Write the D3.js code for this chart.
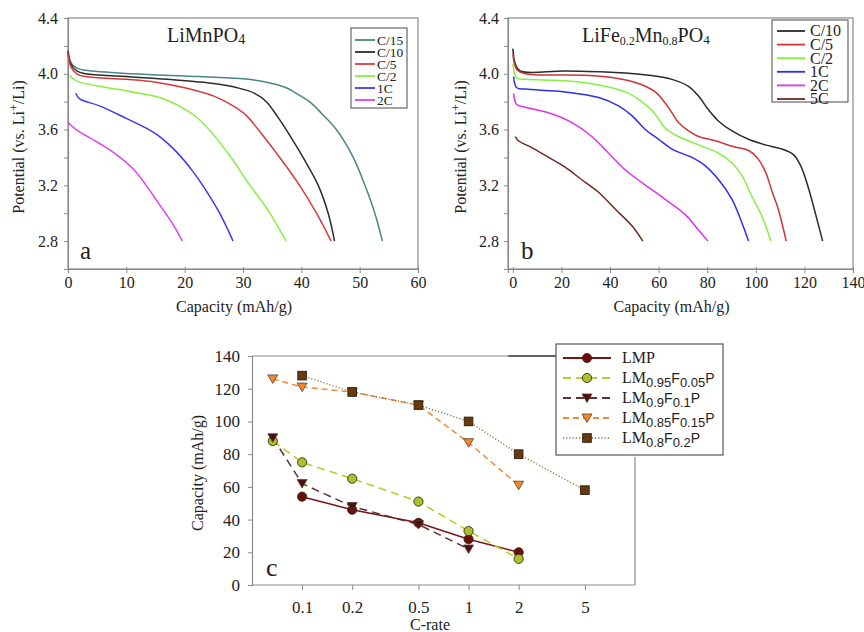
<!DOCTYPE html>
<html>
<head>
<meta charset="utf-8">
<script src="https://cdn.jsdelivr.net/npm/d3@7"></script>
<style>
  html, body { margin: 0; padding: 0; background: #fff; }
  svg { display: block; }
  text { font-family: "Liberation Serif", "Times New Roman", serif; fill: #222; }
</style>
</head>
<body>
<svg id="fig" width="864" height="632"></svg>
<script>
const SERIF = "'Liberation Serif', 'Times New Roman', serif";
const SANS = "'Liberation Sans', Arial, sans-serif";

// ---- Panel a: LiMnPO4 discharge curves, [capacity mAh/g, potential V] ----
const aRates = ["C/15", "C/10", "C/5", "C/2", "1C", "2C"];
const aColors = ["#4a8686", "#2b2b2b", "#d63a3a", "#86f042", "#3a3af2", "#e040f2"];
const aC15 = [[0,4.17],[0.5,4.08],[1.5,4.04],[3,4.025],[11,4.0],[22.6,3.98],[31,3.96],[35,3.93],[37.4,3.9],[39.5,3.85],[41.4,3.8],[43.6,3.71],[46,3.6],[48.9,3.4],[50.9,3.2],[52.6,3.0],[53.9,2.8]];
const aC10 = [[0,4.16],[0.5,4.07],[1.5,4.02],[3,4.0],[10,3.98],[17,3.96],[25,3.93],[29,3.9],[32,3.86],[34,3.8],[35.8,3.7],[37.4,3.6],[40.3,3.4],[42.9,3.2],[44.6,3.0],[45.7,2.8]];
const aC5  = [[0,4.15],[0.5,4.05],[1.5,4.0],[3,3.98],[10,3.96],[15,3.94],[20,3.9],[25,3.84],[28.3,3.77],[30.6,3.7],[32.6,3.6],[36.3,3.4],[39.7,3.2],[42.6,3.0],[45.1,2.8]];
const aC2  = [[0.3,3.99],[1,3.96],[2,3.94],[5.4,3.91],[11,3.87],[15.7,3.83],[19,3.77],[22,3.69],[25,3.56],[28.3,3.38],[31,3.21],[34,3.04],[37.4,2.8]];
const a1C  = [[1.3,3.86],[2,3.82],[5.4,3.77],[10,3.68],[13.4,3.61],[15.7,3.55],[18.6,3.44],[21.4,3.3],[23.7,3.16],[26,3.0],[28.3,2.8]];
const a2C  = [[0,3.65],[1.4,3.6],[5.4,3.5],[8.3,3.42],[11.1,3.32],[13.4,3.2],[15.7,3.06],[18,2.92],[19.6,2.8]];

// ---- Panel b: LiFe0.2Mn0.8PO4 discharge curves ----
const bRates = ["C/10", "C/5", "C/2", "1C", "2C", "5C"];
const bColors = ["#2b2b2b", "#cc3535", "#86f042", "#2e2ef2", "#e032f2", "#6b2b22"];
const bC10 = [[0,4.18],[1,4.07],[3,4.02],[21.5,4.02],[42.1,4.01],[55.9,3.99],[65.5,3.96],[72.3,3.91],[76.4,3.84],[80.6,3.74],[84.7,3.66],[90.2,3.59],[97,3.53],[103.9,3.49],[110.8,3.46],[115.5,3.42],[118.5,3.34],[121.5,3.19],[124.5,3.0],[127.5,2.8]];
const bC5  = [[0,4.14],[1.6,4.03],[5.1,4.0],[28.4,3.99],[42.1,3.97],[51.7,3.93],[58.6,3.87],[62.7,3.79],[65.5,3.72],[68.2,3.65],[72.3,3.59],[76.4,3.55],[83.3,3.52],[90.2,3.48],[97,3.45],[100.5,3.4],[103.9,3.3],[106.6,3.16],[109.4,3.02],[112.5,2.8]];
const bC2  = [[0,4.07],[1.6,3.97],[5.1,3.96],[21.5,3.95],[35.3,3.92],[46.3,3.87],[53.1,3.8],[58.6,3.71],[62.7,3.61],[68.2,3.55],[76.4,3.49],[84.7,3.43],[90.2,3.36],[94.3,3.27],[98.4,3.12],[102.5,2.98],[106.2,2.8]];
const b1C  = [[0.3,3.98],[1.6,3.9],[5.1,3.89],[21.5,3.87],[35.3,3.83],[43.5,3.77],[49,3.7],[54.5,3.6],[60,3.53],[65.5,3.46],[73.7,3.4],[79.2,3.34],[84.7,3.24],[90.2,3.1],[94.3,2.93],[97,2.8]];
const b2C  = [[0.3,3.86],[1.6,3.78],[5.1,3.76],[14.7,3.72],[24.3,3.65],[32.5,3.55],[39.4,3.43],[46.3,3.31],[53.1,3.22],[62.7,3.1],[71,2.99],[76.4,2.88],[80.3,2.8]];
const b5C  = [[1,3.55],[2.3,3.52],[7.8,3.47],[14.7,3.4],[21.5,3.33],[28.4,3.24],[35.3,3.15],[42.1,3.03],[49,2.91],[53.5,2.8]];

const potTicks = [2.6, 2.8, 3.0, 3.2, 3.4, 3.6, 3.8, 4.0, 4.2, 4.4];
const potLabels = [2.8, 3.2, 3.6, 4.0, 4.4];
const aCapTicks = [0, 10, 20, 30, 40, 50, 60];
const bCapTicks = [0, 20, 40, 60, 80, 100, 120, 140];

// ---- Panel c: rate capability, capacity (mAh/g) vs C-rate ----
const cRates = [1/15, 0.1, 0.2, 0.5, 1, 2, 5];
const cRateTicks = [0.1, 0.2, 0.5, 1, 2, 5];
const cCapTicks = [0, 20, 40, 60, 80, 100, 120, 140];
const cLMP     = [null, 54, 46, 38, 28, 20, null];
const cLM95F05 = [88, 75, 65, 51, 33, 16, null];
const cLM90F10 = [90, 62, 48, 37, 22, null, null];
const cLM85F15 = [126, 121, 118, 110, 87, 61, null];
const cLM80F20 = [null, 128, 118, 110, 100, 80, 58];
const cNames = [
  ["0.95", "0.05"], ["0.9", "0.1"], ["0.85", "0.15"], ["0.8", "0.2"]
];

const svg = d3.select("#fig");
svg.append("rect").attr("width", 864).attr("height", 632).attr("fill", "#fff");

const frameCol = "#8a8a8a";

function styleAxis(sel, size) {
  sel.attr("font-family", SERIF);
  sel.select(".domain").attr("stroke", frameCol).attr("stroke-width", 1.2);
  sel.selectAll(".tick line").attr("stroke", frameCol);
  sel.selectAll("text").style("font-size", size + "px").style("font-family", SERIF).attr("fill", "#222");
}

function drawCurvePanel(opt) {
  const g = svg.append("g");
  const x = d3.scaleLinear().domain(opt.xDomain).range([opt.left, opt.right]);
  const y = d3.scaleLinear().domain([2.6, 4.4]).range([opt.bottom, opt.top]);

  // frame
  g.append("rect")
    .attr("x", opt.left).attr("y", opt.top)
    .attr("width", opt.right - opt.left).attr("height", opt.bottom - opt.top)
    .attr("fill", "none").attr("stroke", frameCol).attr("stroke-width", 1.2);

  const yAxis = d3.axisLeft(y).tickValues(potTicks).tickSize(4).tickPadding(opt.yPad)
    .tickFormat(d => potLabels.some(v => Math.abs(v - d) < 1e-6) ? d3.format(".1f")(d) : "");
  const ya = g.append("g").attr("transform", `translate(${opt.left},0)`).call(yAxis);
  styleAxis(ya, 16);

  const xAxis = d3.axisBottom(x).tickValues(opt.xTicks).tickSize(4).tickPadding(4);
  const xa = g.append("g").attr("transform", `translate(0,${opt.bottom})`).call(xAxis);
  styleAxis(xa, 16);
  xa.selectAll(".tick line").attr("y1", -2);

  // curves
  const line = d3.line().x(d => x(d[0])).y(d => y(d[1])).curve(d3.curveCatmullRom.alpha(0.5));
  opt.series.forEach((s, i) => {
    g.append("path").attr("d", line(s)).attr("fill", "none")
      .attr("stroke", opt.colors[i]).attr("stroke-width", 1.5);
  });

  // axis titles
  const yl = g.append("text")
    .attr("transform", `translate(${opt.yLabelX},147) rotate(-90)`)
    .attr("text-anchor", "middle").style("font-size", "16px");
  yl.append("tspan").text("Potential (vs. Li");
  yl.append("tspan").attr("dy", -6).style("font-size", "12px").text("+");
  yl.append("tspan").attr("dy", 6).text("/Li)");

  g.append("text").attr("x", (opt.left + opt.right) / 2 - 9).attr("y", 312)
    .attr("text-anchor", "middle").style("font-size", "16px").text("Capacity (mAh/g)");

  // panel letter
  g.append("text").attr("x", opt.letterX).attr("y", 259)
    .style("font-size", "25px").text(opt.letter);

  // legend
  const lg = g.append("g");
  lg.append("rect").attr("x", opt.leg.x).attr("y", opt.leg.y)
    .attr("width", opt.leg.w).attr("height", opt.leg.h)
    .attr("fill", "#fff").attr("stroke", "#666").attr("stroke-width", 1.2);
  opt.labels.forEach((lab, i) => {
    const cy = opt.leg.row0 + i * opt.leg.dy;
    lg.append("line").attr("x1", opt.leg.lx1).attr("x2", opt.leg.lx2)
      .attr("y1", cy).attr("y2", cy).attr("stroke", opt.colors[i]).attr("stroke-width", 1.8);
    lg.append("text").attr("x", opt.leg.tx).attr("y", cy + opt.leg.fs * 0.34)
      .style("font-size", opt.leg.fs + "px").text(lab);
  });

  return g;
}

// panel a
const ga = drawCurvePanel({
  left: 68, right: 418, top: 18, bottom: 269,
  xDomain: [0, 60], xTicks: aCapTicks, yPad: 6,
  series: [aC15, aC10, aC5, aC2, a1C, a2C], colors: aColors, labels: aRates,
  yLabelX: 24, letter: "a", letterX: 80,
  leg: { x: 351, y: 28, w: 56, h: 80, row0: 40, dy: 12, lx1: 355, lx2: 375, tx: 377, fs: 13.5 }
});
const ta = ga.append("text").attr("x", 167).attr("y", 42).style("font-size", "20px");
ta.append("tspan").text("LiMnPO");
ta.append("tspan").attr("dy", 2).style("font-size", "14px").text("4");

// panel b
const gb = drawCurvePanel({
  left: 508, right: 853, top: 18, bottom: 269,
  xDomain: [-2, 140], xTicks: bCapTicks, yPad: 5,
  series: [bC10, bC5, bC2, b1C, b2C, b5C], colors: bColors, labels: bRates,
  yLabelX: 466, letter: "b", letterX: 521,
  leg: { x: 772, y: 20, w: 76, h: 82, row0: 31, dy: 13.6, lx1: 777, lx2: 805, tx: 810, fs: 16 }
});
const tb = gb.append("text").attr("x", 582).attr("y", 42).style("font-size", "20px");
tb.append("tspan").text("LiFe");
tb.append("tspan").attr("dy", 3).style("font-size", "12px").text("0.2");
tb.append("tspan").attr("dy", -3).text("Mn");
tb.append("tspan").attr("dy", 3).style("font-size", "12px").text("0.8");
tb.append("tspan").attr("dy", -3).text("PO");
tb.append("tspan").attr("dy", 2).style("font-size", "13px").text("4");

// ---- panel c ----
const gc = svg.append("g");
const cx = d3.scaleLog().domain([0.05, 10]).range([252, 635]);
const cy = d3.scaleLinear().domain([0, 140]).range([585, 356]);

// plot frame: top, right and the line into the legend
gc.append("line").attr("x1", 252).attr("x2", 508).attr("y1", 356).attr("y2", 356)
  .attr("stroke", frameCol).attr("stroke-width", 1.2);
gc.append("line").attr("x1", 508).attr("x2", 556).attr("y1", 356).attr("y2", 356)
  .attr("stroke", "#333").attr("stroke-width", 1.4);
gc.append("line").attr("x1", 635).attr("x2", 635).attr("y1", 457).attr("y2", 585)
  .attr("stroke", frameCol).attr("stroke-width", 1.2);

const cya = gc.append("g").attr("transform", "translate(252,0)")
  .call(d3.axisLeft(cy).tickValues(cCapTicks).tickSize(4).tickPadding(8));
styleAxis(cya, 17);

const cxa = gc.append("g").attr("transform", "translate(0,585)")
  .call(d3.axisBottom(cx).tickValues(cRateTicks).tickFormat(d => String(d)).tickSize(5).tickPadding(11));
styleAxis(cxa, 17);
cxa.select(".domain").attr("d", "M252,0H635");

gc.append("text").attr("x", 430).attr("y", 630).attr("text-anchor", "middle")
  .style("font-size", "16px").text("C-rate");
gc.append("text").attr("transform", "translate(203,473) rotate(-90)")
  .attr("text-anchor", "middle").style("font-size", "16px").text("Capacity (mAh/g)");
gc.append("text").attr("x", 266).attr("y", 576).style("font-size", "26px").text("c");

const cSeries = [
  { vals: cLMP,     stroke: "#7a1515", dash: null,  width: 1.5, marker: "circle",   fill: "#6e0c0c" },
  { vals: cLM95F05, stroke: "#b4cf32", dash: "8,5", width: 1.6, marker: "circle",   fill: "#a9c22a" },
  { vals: cLM90F10, stroke: "#5a3232", dash: "8,5", width: 1.5, marker: "triDown",  fill: "#4d0f0f" },
  { vals: cLM85F15, stroke: "#f08a3a", dash: "6,4", width: 1.5, marker: "triDown",  fill: "#f08a2a" },
  { vals: cLM80F20, stroke: "#96683e", dash: "1.2,2", width: 1.3, marker: "square", fill: "#6a3a0c" }
];

function drawMarker(sel, kind, fill, px, py) {
  if (kind === "circle") {
    sel.append("circle").attr("cx", px).attr("cy", py).attr("r", 4.6)
      .attr("fill", fill).attr("stroke", "#3a2a1a").attr("stroke-width", 0.9);
  } else if (kind === "square") {
    sel.append("rect").attr("x", px - 4.3).attr("y", py - 4.3).attr("width", 8.6).attr("height", 8.6)
      .attr("fill", fill).attr("stroke", "#2a1a0a").attr("stroke-width", 0.9);
  } else {
    sel.append("path").attr("d", `M${px - 5},${py - 4}L${px + 5},${py - 4}L${px},${py + 4.5}Z`)
      .attr("fill", fill).attr("stroke", "#5a3a2a").attr("stroke-width", 0.8);
  }
}

const cLine = d3.line().defined(d => d[1] != null).x(d => cx(d[0])).y(d => cy(d[1]));
cSeries.forEach(s => {
  const pts = cRates.map((r, i) => [r, s.vals[i]]);
  const p = gc.append("path").attr("d", cLine(pts)).attr("fill", "none")
    .attr("stroke", s.stroke).attr("stroke-width", s.width);
  if (s.dash) p.attr("stroke-dasharray", s.dash);
});
cSeries.forEach(s => {
  cRates.forEach((r, i) => {
    if (s.vals[i] != null) drawMarker(gc, s.marker, s.fill, cx(r), cy(s.vals[i]));
  });
});

// legend for panel c
const lc = gc.append("g");
lc.append("rect").attr("x", 556).attr("y", 344).attr("width", 167).attr("height", 111)
  .attr("fill", "#fff").attr("stroke", "#555").attr("stroke-width", 1.2);
cSeries.forEach((s, i) => {
  const ry = 358 + i * 20;
  const l = lc.append("line").attr("x1", 563).attr("x2", 611).attr("y1", ry).attr("y2", ry)
    .attr("stroke", s.stroke).attr("stroke-width", s.width + 0.3);
  if (s.dash) l.attr("stroke-dasharray", s.dash);
  drawMarker(lc, s.marker, s.fill, 587, ry);
  const t = lc.append("text").attr("x", 622).attr("y", ry + 5).style("font-size", "16px");
  if (i === 0) {
    t.text("LMP");
  } else {
    const nm = cNames[i - 1];
    t.append("tspan").text("LM");
    t.append("tspan").attr("dy", 4).style("font-family", SANS).style("font-size", "13px").text(nm[0]);
    t.append("tspan").attr("dy", -4).style("font-family", SANS).style("font-size", "14px").text("F");
    t.append("tspan").attr("dy", 4).style("font-family", SANS).style("font-size", "13px").text(nm[1]);
    t.append("tspan").attr("dy", -4).style("font-family", SANS).style("font-size", "14px").text("P");
  }
});
</script>
</body>
</html>
